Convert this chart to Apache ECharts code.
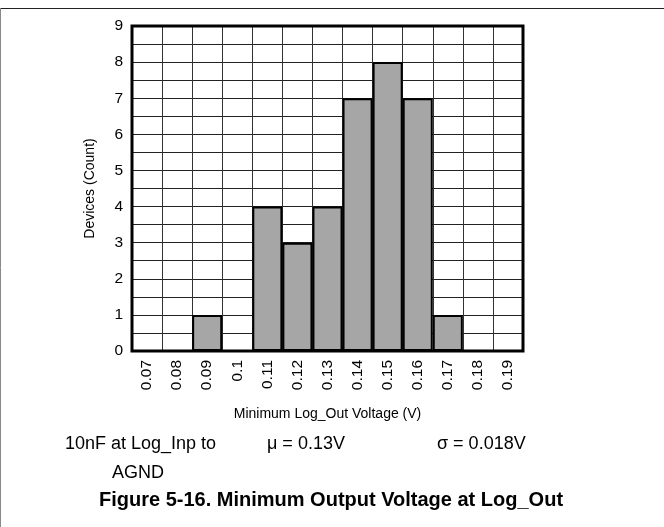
<!DOCTYPE html>
<html>
<head>
<meta charset="utf-8">
<script src="https://cdn.jsdelivr.net/npm/echarts@6/dist/echarts.min.js"></script>
<style>
html,body{margin:0;padding:0;background:#fff;}
#chart{width:664px;height:527px;}
</style>
</head>
<body>
<div id="chart"></div>
<script>
const categories = ['0.07','0.08','0.09','0.1','0.11','0.12','0.13','0.14','0.15','0.16','0.17','0.18','0.19'];
const counts = [0,0,1,0,4,3,4,7,8,7,1,0,0];
const yTicks = [0,1,2,3,4,5,6,7,8,9];
const xAxisName = 'Minimum Log_Out Voltage (V)';
const yAxisName = 'Devices (Count)';
const noteCondition1 = '10nF at Log_Inp to';
const noteCondition2 = 'AGND';
const noteMean = 'μ = 0.13V';
const noteSigma = 'σ = 0.018V';
const figureTitle = 'Figure 5-16. Minimum Output Voltage at Log_Out';

const chart = echarts.init(document.getElementById('chart'), null, {renderer:'canvas'});
const font = 'Arial, "Liberation Sans", sans-serif';
chart.setOption({
  animation:false,
  backgroundColor:'#fff',
  grid:{left:132,right:141,top:26,bottom:176,show:false},
  xAxis:{
    type:'category',
    data:categories,
    boundaryGap:true,
    name:xAxisName,
    nameLocation:'middle',
    nameGap:56,
    nameTextStyle:{fontFamily:font,fontSize:14,color:'#000'},
    axisLine:{show:false},
    axisTick:{show:false},
    axisLabel:{rotate:90,fontFamily:font,fontSize:15.5,color:'#000',margin:9,interval:0},
    splitLine:{show:true,interval:0,lineStyle:{color:'#333',width:1}}
  },
  yAxis:{
    type:'value',
    min:0,max:9,interval:0.5,
    name:yAxisName,
    nameLocation:'middle',
    nameGap:35,
    nameRotate:90,
    nameTextStyle:{fontFamily:font,fontSize:14,color:'#000'},
    axisLine:{show:false},
    axisTick:{show:false},
    axisLabel:{fontFamily:font,fontSize:15.5,color:'#000',margin:9,
      formatter:function(v){return yTicks.indexOf(v)>=0?String(v):'';}},
    splitLine:{show:true,lineStyle:{color:'#222',width:1}}
  },
  series:[
    {
      type:'bar',
      data:counts,
      barWidth:'100%',
      itemStyle:{color:'#a6a6a6',borderColor:'#000',borderWidth:2},
      silent:true
    }
  ],
  graphic:[
    {type:'rect',shape:{x:132,y:26,width:391,height:325},style:{fill:null,stroke:'#000',lineWidth:3},z:100},
    {type:'line',shape:{x1:0,y1:8.5,x2:664,y2:8.5},style:{stroke:'#222',lineWidth:1}},
    {type:'line',shape:{x1:0.5,y1:8,x2:0.5,y2:527},style:{stroke:'#888',lineWidth:1}},
    {type:'text',x:65,y:444,style:{text:noteCondition1,font:'18px '+font,fill:'#000',textVerticalAlign:'middle'}},
    {type:'text',x:112,y:473,style:{text:noteCondition2,font:'18px '+font,fill:'#000',textVerticalAlign:'middle'}},
    {type:'text',x:267,y:444,style:{text:noteMean,font:'18px '+font,fill:'#000',textVerticalAlign:'middle'}},
    {type:'text',x:437,y:444,style:{text:noteSigma,font:'18px '+font,fill:'#000',textVerticalAlign:'middle'}},
    {type:'text',x:331,y:500,style:{text:figureTitle,font:'bold 20px '+font,fill:'#000',textAlign:'center',textVerticalAlign:'middle'}}
  ]
});
</script>
</body>
</html>
